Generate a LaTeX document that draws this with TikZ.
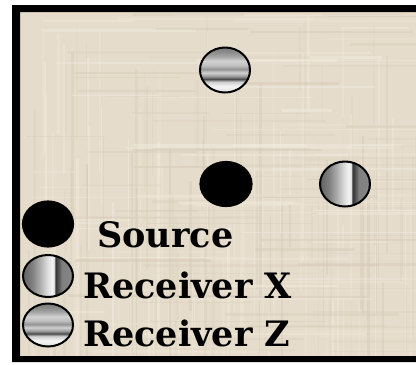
\documentclass[tikz,border=0pt]{standalone}
\usepackage{fontspec}
\newfontfamily\lblfont{DejaVu Serif}
\usetikzlibrary{shapes.geometric}
\definecolor{bg}{RGB}{230,220,203}
\definecolor{bglight}{RGB}{242,236,224}
\definecolor{bgdark}{RGB}{214,203,184}
\pgfdeclarehorizontalshading{rxshade}{100bp}{%
  color(0bp)=(black!62); color(25bp)=(black!62);
  color(34bp)=(black!50); color(42bp)=(black!32);
  color(50bp)=(black!12); color(54bp)=(black!5);
  color(56bp)=(black!12); color(57.5bp)=(black!80);
  color(60bp)=(black!70); color(64bp)=(black!50);
  color(72bp)=(black!48); color(75bp)=(black!60); color(100bp)=(black!60)}
\pgfdeclareverticalshading{rzshade}{100bp}{%
  color(0bp)=(black!12); color(25bp)=(black!12);
  color(32bp)=(black!4); color(37bp)=(black!20);
  color(40bp)=(black!70); color(43bp)=(black!40);
  color(47bp)=(black!18); color(51bp)=(black!42);
  color(55bp)=(black!25); color(60bp)=(black!18);
  color(65bp)=(black!35); color(70bp)=(black!45);
  color(75bp)=(black!52); color(100bp)=(black!52)}
\tikzset{
  srcmark/.style={ellipse, fill=black, draw=black, line width=1.2pt, inner sep=0pt},
  rxmark/.style={ellipse, shading=rxshade, draw=black, line width=2pt, inner sep=0pt},
  rzmark/.style={ellipse, shading=rzshade, draw=black, line width=2pt, inner sep=0pt},
  lbl/.style={anchor=base west, inner sep=0pt, font=\lblfont\bfseries\fontsize{35}{38}\selectfont}
}
\begin{document}
\begin{tikzpicture}[x=1pt,y=-1pt]
\useasboundingbox (0,0) rectangle (416,365);
\fill[white] (0,0) rectangle (416,365);
\fill[bg] (20,12) rectangle (416,356);
\begin{scope}
\clip (20,12) rectangle (416,356);
\pgfmathsetseed{7}
\foreach \i in {1,...,140}{
  \pgfmathsetmacro{\xx}{20+396*rnd}
  \pgfmathsetmacro{\ww}{1+2*rnd}
  \pgfmathsetmacro{\op}{0.15+0.35*rnd}
  \pgfmathsetmacro{\yy}{12+300*rnd}
  \pgfmathsetmacro{\ll}{40+200*rnd}
  \ifodd\i
    \fill[bglight,opacity=\op] (\xx,\yy) rectangle ++(\ww,\ll);
  \else
    \fill[bgdark,opacity=\op] (\xx,\yy) rectangle ++(\ww,\ll);
  \fi
}
\foreach \i in {1,...,140}{
  \pgfmathsetmacro{\yy}{12+340*rnd}
  \pgfmathsetmacro{\hh}{1+2*rnd}
  \pgfmathsetmacro{\op}{0.15+0.35*rnd}
  \pgfmathsetmacro{\xx}{20+350*rnd}
  \pgfmathsetmacro{\ll}{40+200*rnd}
  \ifodd\i
    \fill[bglight,opacity=\op] (\xx,\yy) rectangle ++(\ll,\hh);
  \else
    \fill[bgdark,opacity=\op] (\xx,\yy) rectangle ++(\ll,\hh);
  \fi
}
\end{scope}
% frame drawn over the texture
\fill[black, even odd rule] (12,5) rectangle (417,362) (20,12) rectangle (417,356);
% field markers
\node[rzmark, minimum width=50pt, minimum height=45pt] (rz) at (225,70) {};
\node[srcmark, minimum width=52pt, minimum height=45pt] (src) at (226,184) {};
\node[rxmark, minimum width=50pt, minimum height=45pt] (rx) at (345,184) {};
% legend
\node[srcmark, minimum width=51pt, minimum height=46pt] (lsrc) at (48,224) {};
\node[rxmark, minimum width=50pt, minimum height=42pt] (lrx) at (48,276) {};
\node[rzmark, minimum width=50pt, minimum height=43pt] (lrz) at (48,325) {};
\node[lbl] (tsrc) at (97,247) {Source};
\node[lbl] (trx) at (83,298) {Receiver X};
\node[lbl] (trz) at (83,346) {Receiver Z};
\end{tikzpicture}
\end{document}
